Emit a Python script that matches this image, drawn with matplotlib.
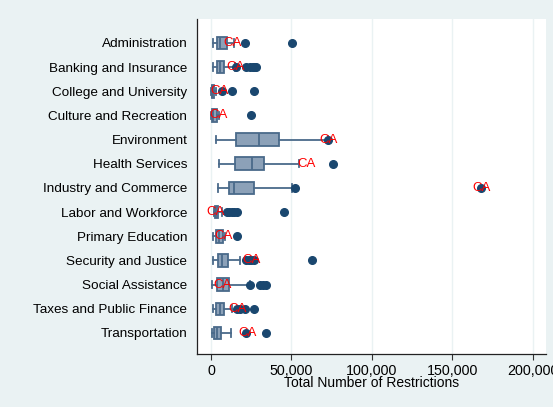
import numpy as np
import matplotlib.pyplot as plt
from matplotlib.ticker import FuncFormatter

plt.rcParams['font.family'] = ['Liberation Sans', 'DejaVu Sans']

categories = ['Administration', 'Banking and Insurance', 'College and University',
              'Culture and Recreation', 'Environment', 'Health Services',
              'Industry and Commerce', 'Labor and Workforce', 'Primary Education',
              'Security and Justice', 'Social Assistance', 'Taxes and Public Finance',
              'Transportation']

# box statistics, thousands of restrictions
whis_lo = [1.2, 1.0, 0.3, 0.3, 3.0, 5.2, 4.6, 2.0, 1.5, 1.5, 0.4, 1.5, 0.4]
q1 = [4.0, 3.8, 0.4, 0.5, 15.6, 15.0, 11.2, 2.5, 3.0, 4.2, 3.8, 3.0, 2.0]
median = [5.8, 5.6, 0.9, 1.5, 29.6, 25.8, 14.0, 3.2, 5.0, 6.7, 7.3, 5.6, 3.7]
q3 = [10.0, 7.8, 1.8, 3.6, 42.5, 32.7, 27.0, 4.6, 7.3, 10.8, 11.4, 8.0, 6.2]
whis_hi = [14.0, 15.0, 3.0, 5.0, 73.0, 54.6, 50.4, 7.0, 9.0, 18.0, 24.0, 13.0, 12.5]
outliers = [
    [21.0, 50.4],
    [15.5, 22.0, 24.5, 26.0, 27.0, 28.0],
    [6.7, 13.0, 27.0],
    [24.8],
    [73.0],
    [76.0],
    [52.0, 168.0],
    [9.8, 11.5, 13.0, 14.5, 16.0, 45.6],
    [16.0],
    [22.0, 23.5, 25.0, 26.5, 62.7],
    [24.0, 30.6, 32.5, 34.0],
    [16.0, 18.0, 21.0, 26.5],
    [22.0, 34.4],
]
# California's value in each category
ca_value = [13.4, 15.4, 5.6, 4.6, 73.0, 59.4, 168.0, 3.0, 7.7, 25.4, 7.0, 16.4, 22.7]

bg = '#EAF2F3'
box_fill = '#8CA1B8'
box_edge = '#4A6A8A'
navy = '#1A476F'

stats = []
for i in range(len(categories)):
    stats.append({'whislo': whis_lo[i] * 1000, 'q1': q1[i] * 1000, 'med': median[i] * 1000,
                  'q3': q3[i] * 1000, 'whishi': whis_hi[i] * 1000,
                  'fliers': np.array(outliers[i]) * 1000})

fig = plt.figure(figsize=(5.53, 4.07), dpi=100, facecolor=bg)
ax = fig.add_axes([197 / 553, 1 - 354 / 407, 349 / 553, 335 / 407])
ax.set_facecolor('white')

pos = np.arange(len(categories))
ax.bxp(stats, positions=pos, vert=False, widths=0.52, patch_artist=True,
       boxprops=dict(facecolor=box_fill, edgecolor=box_edge, linewidth=1.3),
       medianprops=dict(color=box_edge, linewidth=1.3),
       whiskerprops=dict(color=box_edge, linewidth=1.3),
       capprops=dict(color=box_edge, linewidth=1.3),
       flierprops=dict(marker='o', markerfacecolor=navy, markeredgecolor=navy,
                       markersize=5.5, linestyle='none'),
       capwidths=0.3)

for i, v in enumerate(ca_value):
    ax.text(v * 1000, pos[i], 'CA', color='red', fontsize=9.5, ha='center', va='center', zorder=5)

ax.set_xlim(-8700, 208300)
ax.set_ylim(12.87, -0.99)
ax.set_xticks([0, 50000, 100000, 150000, 200000])
ax.xaxis.set_major_formatter(FuncFormatter(lambda x, p: f'{int(x):,}'))
ax.set_yticks(pos)
ax.set_yticklabels(categories)
ax.tick_params(axis='y', length=0, pad=7, labelsize=9.7, colors='black')
ax.tick_params(axis='x', length=4, width=0.8, labelsize=10.3, pad=3, color='#333333')
ax.xaxis.grid(True, color=bg, linewidth=1)
ax.set_axisbelow(True)
for s in ['top', 'right']:
    ax.spines[s].set_visible(False)
for s in ['left', 'bottom']:
    ax.spines[s].set_color('#222222')
    ax.spines[s].set_linewidth(0.9)
ax.set_xlabel('Total Number of Restrictions', fontsize=10, labelpad=-1)

fig.savefig('out.png', dpi=100, facecolor=bg)
